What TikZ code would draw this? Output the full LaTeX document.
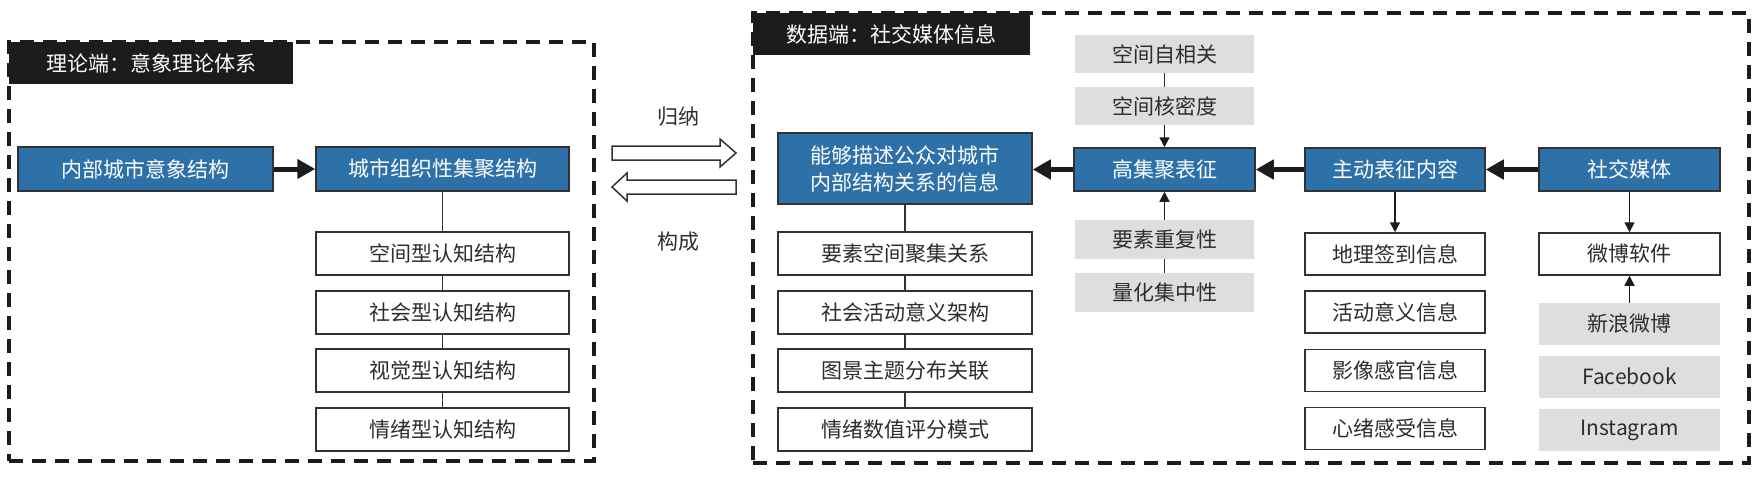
\documentclass[tikz,border=0pt]{standalone}
\usepackage{fontspec}
\setmainfont{Noto Sans CJK SC}
\usetikzlibrary{arrows.meta}
\definecolor{boxblue}{RGB}{46,113,168}
\definecolor{boxgray}{RGB}{221,222,224}
\definecolor{linegray}{RGB}{50,50,50}
\definecolor{txt}{RGB}{45,45,45}
\definecolor{framec}{RGB}{28,28,28}
\begin{document}
\begin{tikzpicture}[x=1pt,y=-1pt,
  base/.style={font=\fontsize{21}{27}\selectfont, inner sep=0pt, align=center},
  bluebox/.style={base, draw=linegray, line width=1.5pt, fill=boxblue, text=white},
  whitebox/.style={base, draw=linegray, line width=1.5pt, fill=white, text=txt},
  graybox/.style={base, fill=boxgray, text=txt},
  titlebox/.style={base, fill=framec, text=white},
  framebox/.style={draw=framec, dash pattern=on 14pt off 9pt, line width=3.5pt, inner sep=0pt},
  lbl/.style={base, text=txt},
  thick arrow/.style={draw=framec, line width=5pt, -{Triangle[length=18pt,width=19pt]}},
  thin arrow/.style={draw=framec, line width=1.5pt, -{Triangle[length=10pt,width=10pt]}},
  link/.style={draw=linegray, line width=1.5pt},
  hollow/.style={draw=linegray, line width=1.5pt, fill=white, line join=miter}
]
\useasboundingbox (0,0) rectangle (1759,480);

% ---------- left frame ----------
\node[framebox, minimum width=585pt, minimum height=419pt] (frameL) at (301.5,251.5) {};
\node[titlebox, minimum width=284pt, minimum height=42pt] (titleL) at (151,63) {理论端：意象理论体系};

\node[bluebox, minimum width=255pt, minimum height=44pt] (b1) at (145.5,169) {内部城市意象结构};
\node[bluebox, minimum width=253pt, minimum height=44pt] (b2) at (442.5,169) {城市组织性集聚结构};

\node[whitebox, minimum width=253pt, minimum height=43pt] (L1) at (442.5,253.5) {空间型认知结构};
\node[whitebox, minimum width=253pt, minimum height=43pt] (L2) at (442.5,312.5) {社会型认知结构};
\node[whitebox, minimum width=253pt, minimum height=43pt] (L3) at (442.5,370.5) {视觉型认知结构};
\node[whitebox, minimum width=253pt, minimum height=43pt] (L4) at (442.5,429.5) {情绪型认知结构};

\draw[thick arrow] (b1.east) -- (b2.west);
\draw[link] (b2.south) -- (L1.north);
\draw[link] (L1.south) -- (L2.north);
\draw[link] (L2.south) -- (L3.north);
\draw[link] (L3.south) -- (L4.north);

% ---------- middle ----------
\node[lbl] (guina) at (678,117) {归纳};
\node[lbl] (goucheng) at (678,242) {构成};
\coordinate (ra) at (612,153);
\coordinate (la) at (612,187);
\draw[hollow] (612,146) -- (720,146) -- (720,139) -- (736,153) -- (720,167) -- (720,160) -- (612,160) -- cycle;
\draw[hollow] (736,180) -- (627,180) -- (627,173) -- (612,187) -- (627,201) -- (627,194) -- (736,194) -- cycle;

% ---------- right frame ----------
\node[framebox, minimum width=996pt, minimum height=450pt] (frameR) at (1251,238) {};
\node[titlebox, minimum width=277pt, minimum height=42pt] (titleR) at (891.5,34) {数据端：社交媒体信息};

\node[bluebox, minimum width=254pt, minimum height=71pt] (info) at (905,168.5) {能够描述公众对城市\\内部结构关系的信息};
\node[whitebox, minimum width=254pt, minimum height=43pt] (R1) at (905,253.5) {要素空间聚集关系};
\node[whitebox, minimum width=254pt, minimum height=43pt] (R2) at (905,312.5) {社会活动意义架构};
\node[whitebox, minimum width=254pt, minimum height=43pt] (R3) at (905,370.5) {图景主题分布关联};
\node[whitebox, minimum width=254pt, minimum height=43pt] (R4) at (905,429.5) {情绪数值评分模式};

\node[bluebox, minimum width=181pt, minimum height=43pt] (gaoji) at (1164.5,169.5) {高集聚表征};
\node[graybox, minimum width=179pt, minimum height=38pt] (g1) at (1164.5,54) {空间自相关};
\node[graybox, minimum width=179pt, minimum height=38pt] (g2) at (1164.5,106) {空间核密度};
\node[graybox, minimum width=179pt, minimum height=39pt] (g3) at (1164.5,239.5) {要素重复性};
\node[graybox, minimum width=179pt, minimum height=39pt] (g4) at (1164.5,292.5) {量化集中性};

\node[bluebox, minimum width=180pt, minimum height=43pt] (zhudong) at (1395,169.5) {主动表征内容};
\node[whitebox, minimum width=180pt, minimum height=42pt] (D1) at (1395,254) {地理签到信息};
\node[whitebox, minimum width=180pt, minimum height=42pt] (D2) at (1395,312) {活动意义信息};
\node[whitebox, minimum width=180pt, minimum height=42pt] (D3) at (1395,370.5) {影像感官信息};
\node[whitebox, minimum width=180pt, minimum height=42pt] (D4) at (1395,428.5) {心绪感受信息};

\node[bluebox, minimum width=181pt, minimum height=43pt] (shejiao) at (1629.5,169.5) {社交媒体};
\node[whitebox, minimum width=181pt, minimum height=42pt] (weibo) at (1629.5,254) {微博软件};
\node[graybox, minimum width=181pt, minimum height=42pt] (s1) at (1629.5,324) {新浪微博};
\node[graybox, minimum width=181pt, minimum height=42pt] (s2) at (1629.5,376.5) {Facebook};
\node[graybox, minimum width=181pt, minimum height=42pt] (s3) at (1629.5,430) {Instagram};

% connectors right
\draw[link] (info.south) -- (R1.north);
\draw[link] (R1.south) -- (R2.north);
\draw[link] (R2.south) -- (R3.north);
\draw[link] (R3.south) -- (R4.north);

\draw[thick arrow] (gaoji.west) -- (gaoji.west -| info.east);
\draw[thick arrow] (zhudong.west) -- (gaoji.east);
\draw[thick arrow] (shejiao.west) -- (zhudong.east);

\draw[link] (g1.south) -- (g2.north);
\draw[thin arrow] (g2.south) -- (gaoji.north);
\draw[thin arrow] (g3.north) -- (gaoji.south);
\draw[link] (g4.north) -- (g3.south);

\draw[thin arrow] (zhudong.south) -- (D1.north);
\draw[thin arrow] (shejiao.south) -- (weibo.north);
\draw[thin arrow] (s1.north) -- (weibo.south);
\end{tikzpicture}
\end{document}
